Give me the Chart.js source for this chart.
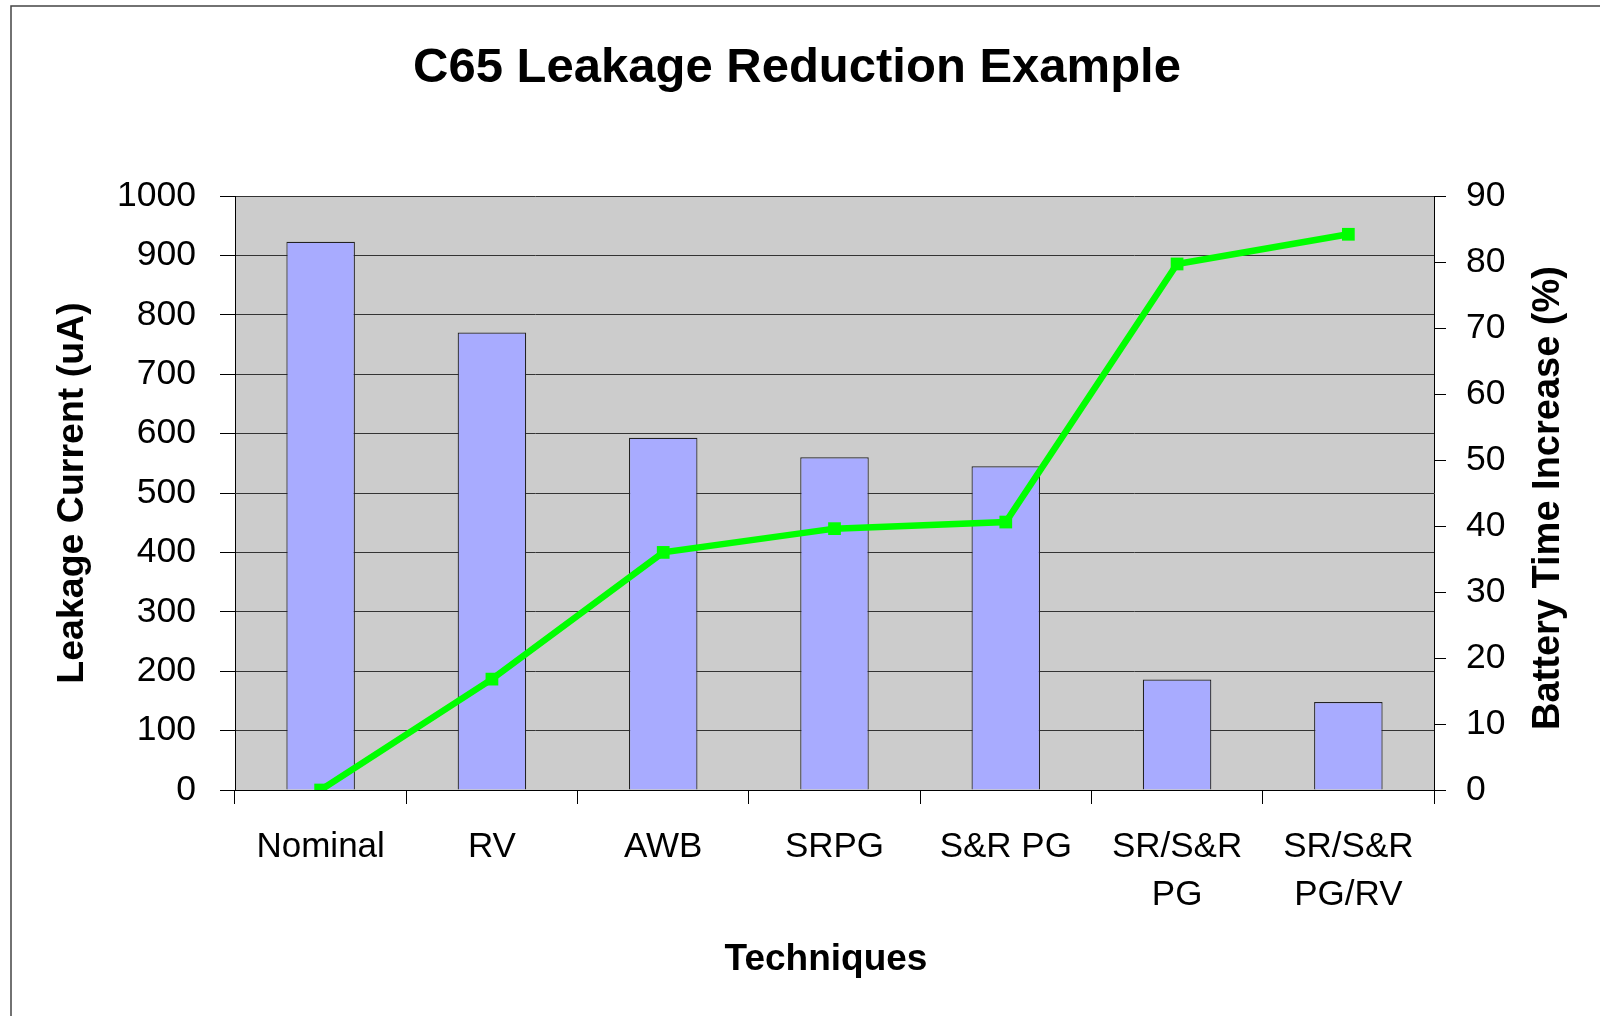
<!DOCTYPE html>
<html>
<head>
<meta charset="utf-8">
<script src="https://cdn.jsdelivr.net/npm/chart.js@4.4.1/dist/chart.umd.min.js"></script>
<style>
html,body{margin:0;padding:0;background:#fff;}
canvas{display:block;}
</style>
</head>
<body>
<canvas id="c" width="1600" height="1016"></canvas>
<script>
const categories = ["Nominal", ["RV"], ["AWB"], ["SRPG"], ["S&R PG"], ["SR/S&R", "PG"], ["SR/S&R", "PG/RV"]];
const leakageCurrent = [923, 770, 593, 560, 545, 186, 148];
const batteryTimeIncrease = [0, 16.8, 36, 39.6, 40.6, 79.7, 84.2];
const chartTitle = "C65 Leakage Reduction Example";
const xTitle = "Techniques";
const yLeftTitle = "Leakage Current (uA)";
const yRightTitle = "Battery Time Increase (%)";

const FONT = "'Liberation Sans', Arial, sans-serif";

const decor = {
  id: 'decor',
  beforeDraw(chart) {
    const {ctx, chartArea: a} = chart;
    ctx.save();
    ctx.fillStyle = '#ffffff';
    ctx.fillRect(0, 0, chart.width, chart.height);
    ctx.fillStyle = '#cccccc';
    ctx.fillRect(a.left, a.top, a.right - a.left, a.bottom - a.top);
    ctx.restore();
  },
  afterDraw(chart) {
    const {ctx, chartArea: a} = chart;
    ctx.save();
    // outer frame (top and left visible)
    ctx.strokeStyle = '#444';
    ctx.lineWidth = 1.5;
    ctx.beginPath();
    ctx.moveTo(11, 1016);
    ctx.lineTo(11, 6);
    ctx.lineTo(1600, 6);
    ctx.stroke();
    ctx.fillStyle = '#000';
    ctx.textAlign = 'center';
    ctx.textBaseline = 'middle';
    // chart title
    ctx.font = "bold 49px " + FONT;
    ctx.fillText(chartTitle, 797, 68);
    // x axis title
    ctx.font = "bold 37px " + FONT;
    ctx.fillText(xTitle, 826, 960);
    // right axis title, reading bottom to top
    ctx.translate(1549, (a.top + a.bottom) / 2 + 5);
    ctx.rotate(-Math.PI / 2);
    ctx.font = "bold 38px " + FONT;
    ctx.fillText(yRightTitle, 0, 0);
    ctx.restore();
  }
};

new Chart(document.getElementById('c'), {
  type: 'bar',
  data: {
    labels: categories,
    datasets: [
      {
        type: 'line',
        data: batteryTimeIncrease,
        yAxisID: 'y2',
        borderColor: '#00ff00',
        backgroundColor: '#00ff00',
        borderWidth: 6.5,
        pointStyle: 'rect',
        pointRadius: 9,
        pointBorderWidth: 0,
        pointBackgroundColor: '#00ff00',
        tension: 0,
        order: 0
      },
      {
        type: 'bar',
        data: leakageCurrent,
        yAxisID: 'y',
        backgroundColor: '#a8abff',
        borderColor: '#222',
        borderWidth: 1.2,
        barPercentage: 0.4,
        categoryPercentage: 1,
        order: 1
      }
    ]
  },
  options: {
    responsive: false,
    animation: false,
    devicePixelRatio: 1,
    layout: { padding: { top: 196, left: 0, right: 0, bottom: 0 } },
    plugins: { legend: { display: false }, tooltip: { enabled: false }, title: { display: false } },
    scales: {
      x: {
        afterFit(s) { s.height = 226; },
        grid: { offset: true, drawOnChartArea: false, drawTicks: true, tickLength: 14, tickColor: '#000', tickWidth: 1 },
        border: { color: '#000', width: 1 },
        ticks: { color: '#000', font: { family: FONT, size: 35, lineHeight: 1.36 }, padding: 20, maxRotation: 0, autoSkip: false },
        title: { display: false }
      },
      y: {
        position: 'left',
        min: 0, max: 1000,
        afterFit(s) { s.width = 235; },
        grid: { color: '#333', lineWidth: 1, drawTicks: true, tickLength: 15, tickColor: '#000' },
        border: { color: '#000', width: 1 },
        ticks: { stepSize: 100, color: '#000', font: { family: FONT, size: 35.5 }, padding: 24, callback: (v) => String(v) },
        title: { display: true, text: yLeftTitle, color: '#000', font: { family: FONT, size: 37.5, weight: 'bold' }, padding: { top: 50, bottom: 0 } }
      },
      y2: {
        position: 'right',
        min: 0, max: 90,
        afterFit(s) { s.width = 166; },
        grid: { drawOnChartArea: false, drawTicks: true, tickLength: 12, tickColor: '#000' },
        border: { color: '#000', width: 1 },
        ticks: { stepSize: 10, color: '#000', font: { family: FONT, size: 35.5 }, padding: 20, callback: (v) => String(v) }
      }
    }
  },
  plugins: [decor]
});
</script>
</body>
</html>
